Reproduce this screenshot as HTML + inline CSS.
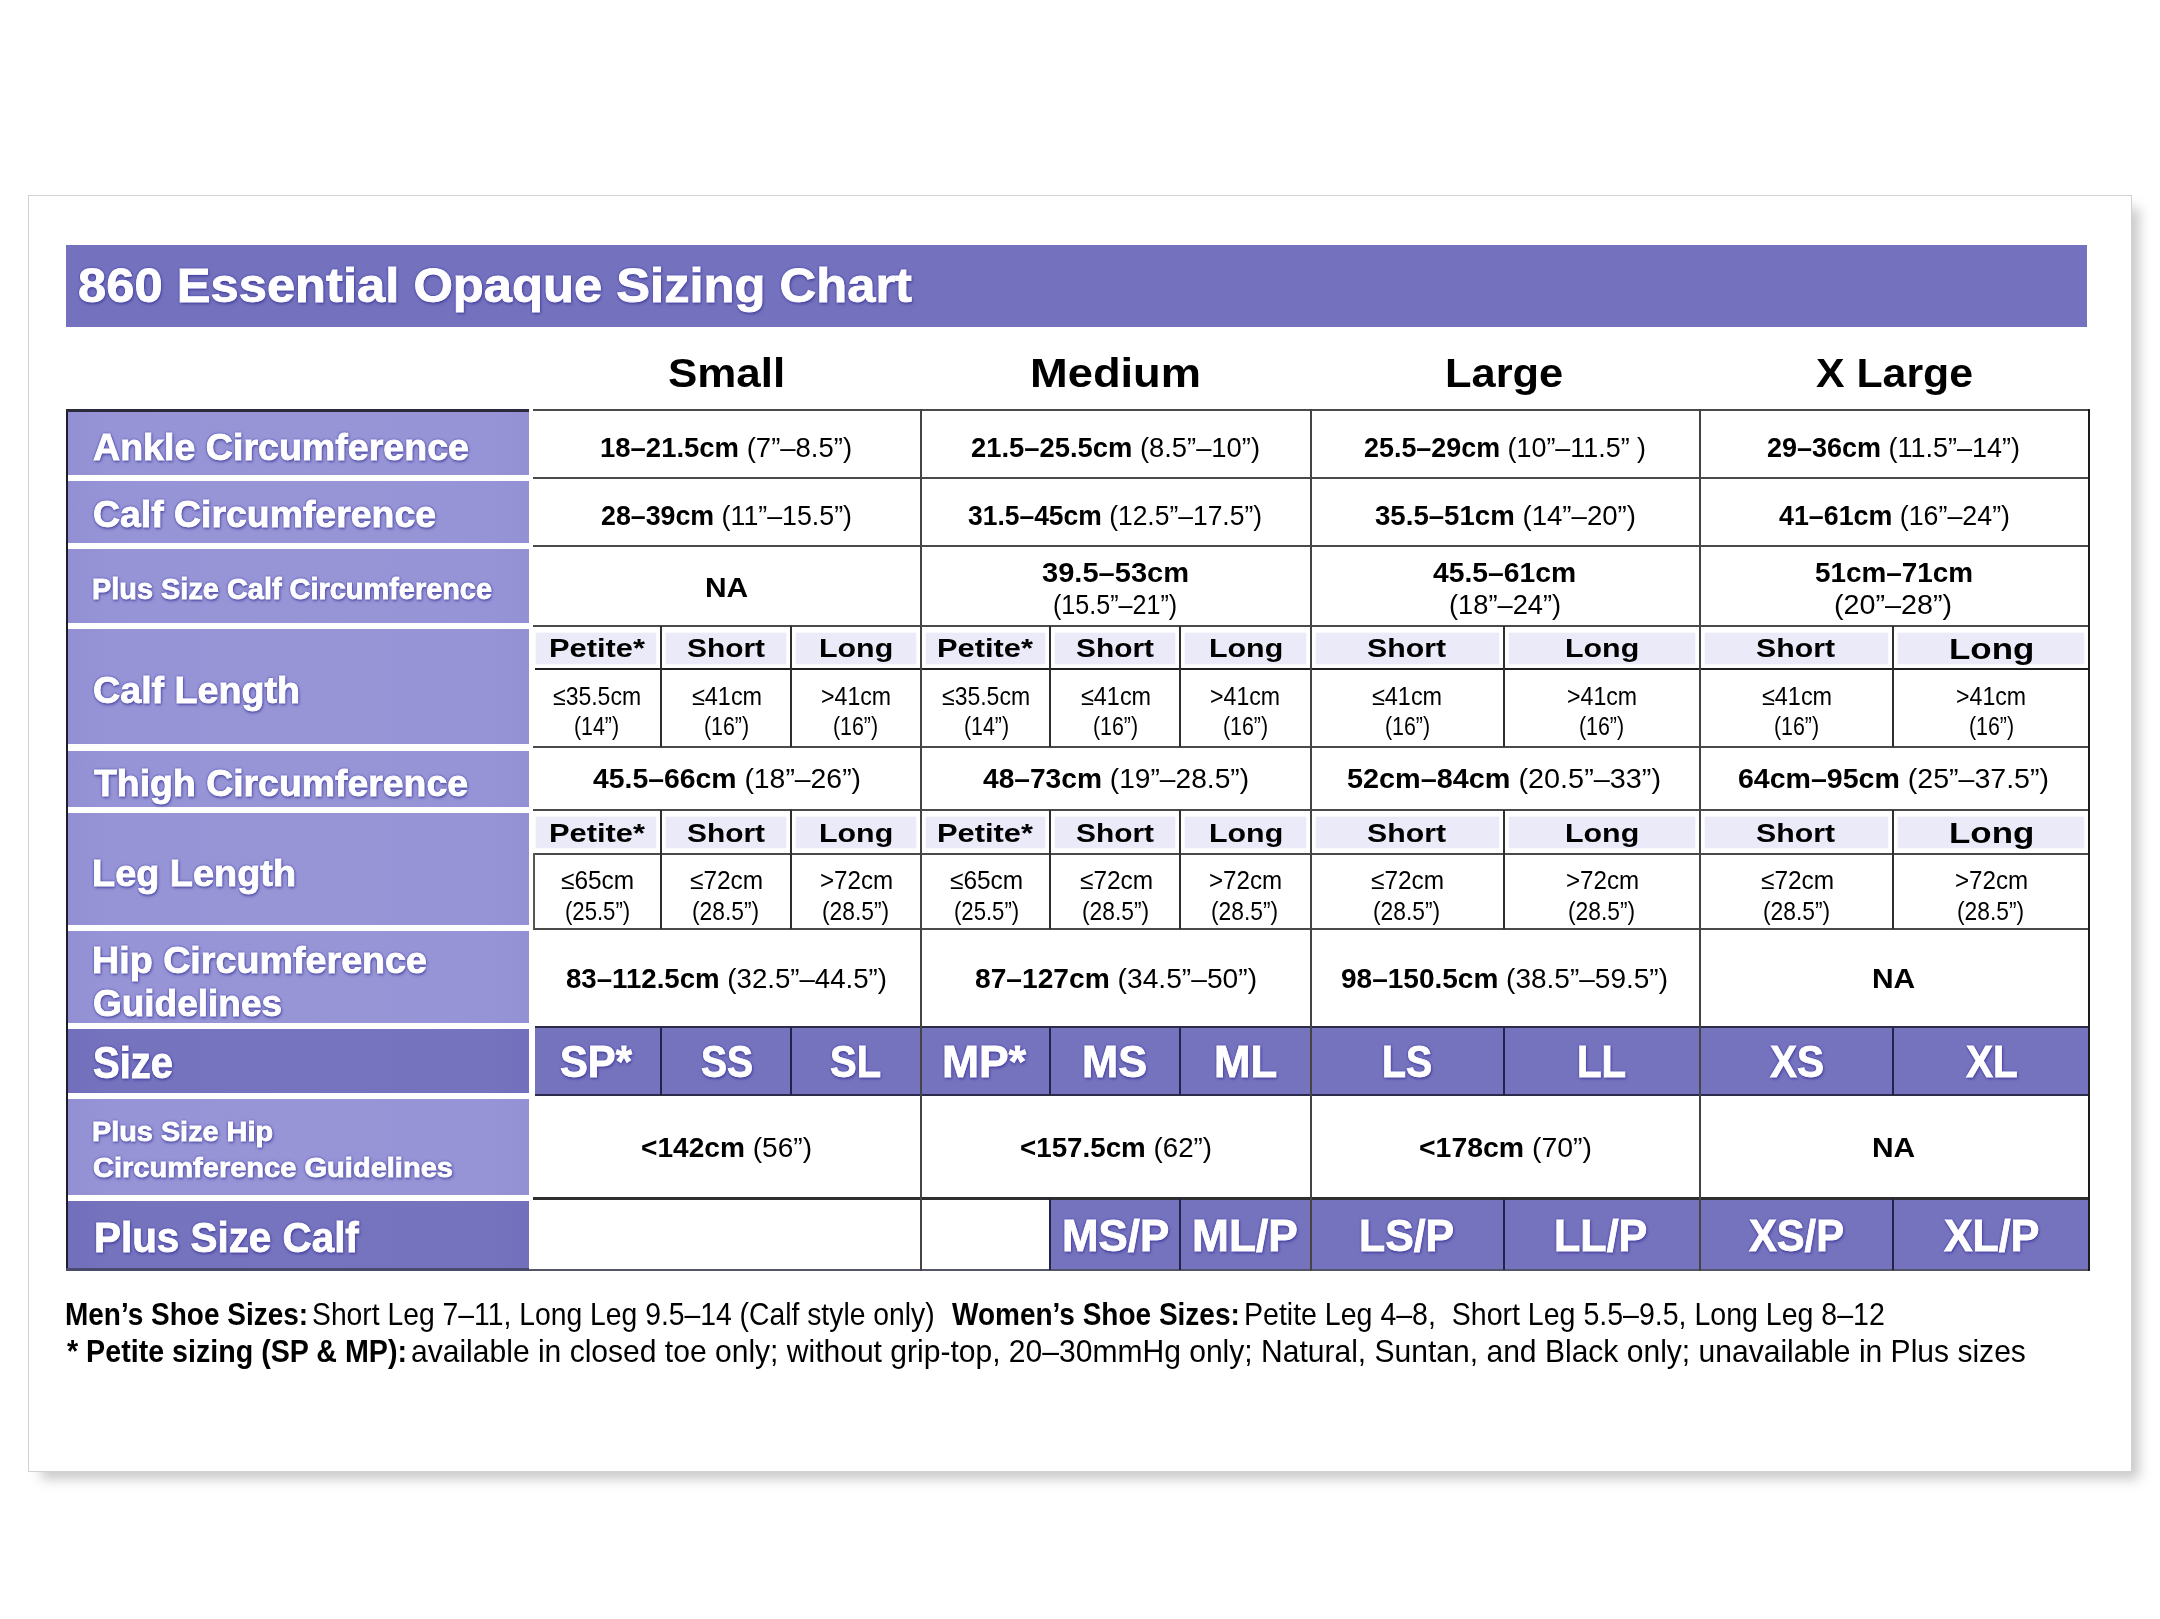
<!DOCTYPE html>
<html><head><meta charset="utf-8"><title>860 Essential Opaque Sizing Chart</title>
<style>html,body{margin:0;padding:0;background:#fff;}body{width:2160px;height:1619px;position:relative;overflow:hidden;font-family:"Liberation Sans", sans-serif;}.t{position:absolute;white-space:nowrap;line-height:1;transform-origin:0 0;}.b{font-weight:bold}.r{font-weight:normal}.w{color:#fff;text-shadow:0 0 3px rgba(62,58,165,0.95),0 0 2px rgba(62,58,165,0.8),1px 2px 3px rgba(50,45,140,0.6);-webkit-text-stroke:0.9px #fff;}#pg{position:absolute;left:0;top:0;width:2160px;height:1619px;filter:blur(0.75px);}</style></head><body><div id="pg">
<div style="position:absolute;left:28px;top:195px;width:2102px;height:1275px;background:#fff;border:1.5px solid #d2d2d2;box-shadow:10px 10px 12px -3px rgba(0,0,0,0.22);"></div>
<div style="position:absolute;left:66px;top:245px;width:2021px;height:82px;background:#7472be;"></div>
<div style="position:absolute;left:68px;top:412px;width:461px;height:63px;background:#9593d5;background:linear-gradient(90deg,#9290d2 0%,#9694d6 8%,#9795d6 50%,#9694d6 92%,#9391d3 100%);"></div>
<div style="position:absolute;left:68px;top:481px;width:461px;height:62px;background:#9593d5;background:linear-gradient(90deg,#9290d2 0%,#9694d6 8%,#9795d6 50%,#9694d6 92%,#9391d3 100%);"></div>
<div style="position:absolute;left:68px;top:549px;width:461px;height:74px;background:#9593d5;background:linear-gradient(90deg,#9290d2 0%,#9694d6 8%,#9795d6 50%,#9694d6 92%,#9391d3 100%);"></div>
<div style="position:absolute;left:68px;top:629px;width:461px;height:115px;background:#9593d5;background:linear-gradient(90deg,#9290d2 0%,#9694d6 8%,#9795d6 50%,#9694d6 92%,#9391d3 100%);"></div>
<div style="position:absolute;left:68px;top:751px;width:461px;height:56px;background:#9593d5;background:linear-gradient(90deg,#9290d2 0%,#9694d6 8%,#9795d6 50%,#9694d6 92%,#9391d3 100%);"></div>
<div style="position:absolute;left:68px;top:813px;width:461px;height:112px;background:#9593d5;background:linear-gradient(90deg,#9290d2 0%,#9694d6 8%,#9795d6 50%,#9694d6 92%,#9391d3 100%);"></div>
<div style="position:absolute;left:68px;top:931px;width:461px;height:91.5px;background:#9593d5;background:linear-gradient(90deg,#9290d2 0%,#9694d6 8%,#9795d6 50%,#9694d6 92%,#9391d3 100%);"></div>
<div style="position:absolute;left:68px;top:1029px;width:461px;height:63.5px;background:#7572be;background:linear-gradient(90deg,#716ebb 0%,#7572be 8%,#7673bf 50%,#7572be 92%,#726fbc 100%);"></div>
<div style="position:absolute;left:68px;top:1099px;width:461px;height:96px;background:#9593d5;background:linear-gradient(90deg,#9290d2 0%,#9694d6 8%,#9795d6 50%,#9694d6 92%,#9391d3 100%);"></div>
<div style="position:absolute;left:68px;top:1201px;width:461px;height:68px;background:#7572be;background:linear-gradient(90deg,#716ebb 0%,#7572be 8%,#7673bf 50%,#7572be 92%,#726fbc 100%);"></div>
<div style="position:absolute;left:66px;top:409px;width:2px;height:861px;background:#1d1d2b;"></div>
<div style="position:absolute;left:66px;top:409px;width:463px;height:3px;background:#2b2a3a;"></div>
<div style="position:absolute;left:66px;top:1268px;width:463px;height:3px;background:#4a4a6a;"></div>
<div style="position:absolute;left:535.5px;top:632.5px;width:120.5px;height:31.0px;background:#ebeaf8;box-shadow:0 0 2px #ebeaf8;"></div>
<div style="position:absolute;left:666px;top:632.5px;width:120px;height:31.0px;background:#ebeaf8;box-shadow:0 0 2px #ebeaf8;"></div>
<div style="position:absolute;left:796px;top:632.5px;width:120px;height:31.0px;background:#ebeaf8;box-shadow:0 0 2px #ebeaf8;"></div>
<div style="position:absolute;left:926px;top:632.5px;width:119px;height:31.0px;background:#ebeaf8;box-shadow:0 0 2px #ebeaf8;"></div>
<div style="position:absolute;left:1055px;top:632.5px;width:120px;height:31.0px;background:#ebeaf8;box-shadow:0 0 2px #ebeaf8;"></div>
<div style="position:absolute;left:1185px;top:632.5px;width:121px;height:31.0px;background:#ebeaf8;box-shadow:0 0 2px #ebeaf8;"></div>
<div style="position:absolute;left:1316px;top:632.5px;width:183px;height:31.0px;background:#ebeaf8;box-shadow:0 0 2px #ebeaf8;"></div>
<div style="position:absolute;left:1509px;top:632.5px;width:186px;height:31.0px;background:#ebeaf8;box-shadow:0 0 2px #ebeaf8;"></div>
<div style="position:absolute;left:1705px;top:632.5px;width:183px;height:31.0px;background:#ebeaf8;box-shadow:0 0 2px #ebeaf8;"></div>
<div style="position:absolute;left:1898px;top:632.5px;width:186px;height:31.0px;background:#ebeaf8;box-shadow:0 0 2px #ebeaf8;"></div>
<div style="position:absolute;left:535.5px;top:816.5px;width:120.5px;height:31.5px;background:#ebeaf8;box-shadow:0 0 2px #ebeaf8;"></div>
<div style="position:absolute;left:666px;top:816.5px;width:120px;height:31.5px;background:#ebeaf8;box-shadow:0 0 2px #ebeaf8;"></div>
<div style="position:absolute;left:796px;top:816.5px;width:120px;height:31.5px;background:#ebeaf8;box-shadow:0 0 2px #ebeaf8;"></div>
<div style="position:absolute;left:926px;top:816.5px;width:119px;height:31.5px;background:#ebeaf8;box-shadow:0 0 2px #ebeaf8;"></div>
<div style="position:absolute;left:1055px;top:816.5px;width:120px;height:31.5px;background:#ebeaf8;box-shadow:0 0 2px #ebeaf8;"></div>
<div style="position:absolute;left:1185px;top:816.5px;width:121px;height:31.5px;background:#ebeaf8;box-shadow:0 0 2px #ebeaf8;"></div>
<div style="position:absolute;left:1316px;top:816.5px;width:183px;height:31.5px;background:#ebeaf8;box-shadow:0 0 2px #ebeaf8;"></div>
<div style="position:absolute;left:1509px;top:816.5px;width:186px;height:31.5px;background:#ebeaf8;box-shadow:0 0 2px #ebeaf8;"></div>
<div style="position:absolute;left:1705px;top:816.5px;width:183px;height:31.5px;background:#ebeaf8;box-shadow:0 0 2px #ebeaf8;"></div>
<div style="position:absolute;left:1898px;top:816.5px;width:186px;height:31.5px;background:#ebeaf8;box-shadow:0 0 2px #ebeaf8;"></div>
<div style="position:absolute;left:535px;top:1027px;width:1554px;height:68px;background:#7572be;"></div>
<div style="position:absolute;left:1051px;top:1199px;width:1038px;height:70px;background:#7572be;"></div>
<div style="position:absolute;left:533px;top:408.8px;width:1557px;height:2.4px;background:#4a4a4a;"></div>
<div style="position:absolute;left:533px;top:476.8px;width:1557px;height:2.4px;background:#4a4a4a;"></div>
<div style="position:absolute;left:533px;top:544.8px;width:1557px;height:2.4px;background:#4a4a4a;"></div>
<div style="position:absolute;left:533px;top:624.8px;width:1557px;height:2.4px;background:#4a4a4a;"></div>
<div style="position:absolute;left:533px;top:745.8px;width:1557px;height:2.4px;background:#4a4a4a;"></div>
<div style="position:absolute;left:533px;top:808.8px;width:1557px;height:2.4px;background:#4a4a4a;"></div>
<div style="position:absolute;left:533px;top:927.8px;width:1557px;height:2.4px;background:#4a4a4a;"></div>
<div style="position:absolute;left:535px;top:667.8px;width:1555px;height:2.4px;background:#1e1e1e;"></div>
<div style="position:absolute;left:533px;top:852.8px;width:1557px;height:2.4px;background:#4a4a4a;"></div>
<div style="position:absolute;left:535px;top:1025.8px;width:1555px;height:2.4px;background:#2c2b4a;"></div>
<div style="position:absolute;left:535px;top:1093.8px;width:1555px;height:2.4px;background:#2c2b4a;"></div>
<div style="position:absolute;left:533px;top:1197.4px;width:1557px;height:2.2px;background:#2e2e2e;"></div>
<div style="position:absolute;left:529px;top:1268.8px;width:1561px;height:2.4px;background:#55556a;"></div>
<div style="position:absolute;left:919.8px;top:409px;width:2.4px;height:862px;background:#444;"></div>
<div style="position:absolute;left:1309.8px;top:409px;width:2.4px;height:862px;background:#444;"></div>
<div style="position:absolute;left:1698.8px;top:409px;width:2.4px;height:862px;background:#444;"></div>
<div style="position:absolute;left:2087.7px;top:409px;width:2.6px;height:862px;background:#1c1c1c;"></div>
<div style="position:absolute;left:659.95px;top:626px;width:2.1px;height:121px;background:#2e2e2e;"></div>
<div style="position:absolute;left:789.95px;top:626px;width:2.1px;height:121px;background:#2e2e2e;"></div>
<div style="position:absolute;left:1048.95px;top:626px;width:2.1px;height:121px;background:#2e2e2e;"></div>
<div style="position:absolute;left:1178.95px;top:626px;width:2.1px;height:121px;background:#2e2e2e;"></div>
<div style="position:absolute;left:1502.95px;top:626px;width:2.1px;height:121px;background:#2e2e2e;"></div>
<div style="position:absolute;left:1891.95px;top:626px;width:2.1px;height:121px;background:#2e2e2e;"></div>
<div style="position:absolute;left:659.95px;top:810px;width:2.1px;height:119px;background:#2e2e2e;"></div>
<div style="position:absolute;left:789.95px;top:810px;width:2.1px;height:119px;background:#2e2e2e;"></div>
<div style="position:absolute;left:1048.95px;top:810px;width:2.1px;height:119px;background:#2e2e2e;"></div>
<div style="position:absolute;left:1178.95px;top:810px;width:2.1px;height:119px;background:#2e2e2e;"></div>
<div style="position:absolute;left:1502.95px;top:810px;width:2.1px;height:119px;background:#2e2e2e;"></div>
<div style="position:absolute;left:1891.95px;top:810px;width:2.1px;height:119px;background:#2e2e2e;"></div>
<div style="position:absolute;left:659.7px;top:1027px;width:2.6px;height:68px;background:#23224a;"></div>
<div style="position:absolute;left:789.7px;top:1027px;width:2.6px;height:68px;background:#23224a;"></div>
<div style="position:absolute;left:1048.7px;top:1027px;width:2.6px;height:68px;background:#23224a;"></div>
<div style="position:absolute;left:1178.7px;top:1027px;width:2.6px;height:68px;background:#23224a;"></div>
<div style="position:absolute;left:1502.7px;top:1027px;width:2.6px;height:68px;background:#23224a;"></div>
<div style="position:absolute;left:1891.7px;top:1027px;width:2.6px;height:68px;background:#23224a;"></div>
<div style="position:absolute;left:1048.7px;top:1198px;width:2.6px;height:72px;background:#23224a;"></div>
<div style="position:absolute;left:1178.7px;top:1198px;width:2.6px;height:72px;background:#23224a;"></div>
<div style="position:absolute;left:1502.7px;top:1198px;width:2.6px;height:72px;background:#23224a;"></div>
<div style="position:absolute;left:1891.7px;top:1198px;width:2.6px;height:72px;background:#23224a;"></div>
<div style="position:absolute;left:532.5px;top:853px;width:2px;height:76px;background:#555;"></div>
<div class="t b w" style="left:78.00px;top:261.44px;font-size:48.5px;transform:scaleX(1.0454);">860 Essential Opaque Sizing Chart</div>
<div class="t b" style="left:668.48px;top:351.87px;font-size:41.5px;transform:scaleX(1.0587);">Small</div>
<div class="t b" style="left:1030.09px;top:351.87px;font-size:41.5px;transform:scaleX(1.0908);">Medium</div>
<div class="t b" style="left:1445.27px;top:351.87px;font-size:41.5px;transform:scaleX(1.0458);">Large</div>
<div class="t b" style="left:1815.78px;top:351.87px;font-size:41.5px;transform:scaleX(1.0316);">X Large</div>
<div class="t b w" style="left:92.99px;top:429.38px;font-size:37px;transform:scaleX(1.0158);">Ankle Circumference</div>
<div class="t b w" style="left:92.99px;top:496.38px;font-size:37px;transform:scaleX(1.0109);">Calf Circumference</div>
<div class="t b w" style="left:91.98px;top:574.03px;font-size:29.5px;transform:scaleX(0.9799);">Plus Size Calf Circumference</div>
<div class="t b w" style="left:92.99px;top:671.98px;font-size:37px;transform:scaleX(1.0175);">Calf Length</div>
<div class="t b w" style="left:94.00px;top:765.38px;font-size:37px;transform:scaleX(1.0106);">Thigh Circumference</div>
<div class="t b w" style="left:91.96px;top:855.38px;font-size:37px;transform:scaleX(1.0236);">Leg Length</div>
<div class="t b w" style="left:91.98px;top:942.38px;font-size:37px;transform:scaleX(1.0183);">Hip Circumference</div>
<div class="t b w" style="left:92.99px;top:984.68px;font-size:37px;transform:scaleX(0.9993);">Guidelines</div>
<div class="t b w" style="left:92.98px;top:1042.18px;font-size:43.5px;transform:scaleX(0.9197);">Size</div>
<div class="t b w" style="left:91.97px;top:1117.72px;font-size:27.5px;transform:scaleX(1.0483);">Plus Size Hip</div>
<div class="t b w" style="left:93.00px;top:1154.22px;font-size:27.5px;transform:scaleX(1.0563);">Circumference Guidelines</div>
<div class="t b w" style="left:93.99px;top:1216.52px;font-size:42.5px;transform:scaleX(0.9502);">Plus Size Calf</div>
<div class="t b" style="left:599.96px;top:433.92px;font-size:27.5px;transform:scaleX(0.9993);">18&ndash;21.5cm <span class="r">(7&#8221;&ndash;8.5&#8221;)</span></div>
<div class="t b" style="left:970.99px;top:433.92px;font-size:27.5px;transform:scaleX(0.9950);">21.5&ndash;25.5cm <span class="r">(8.5&#8221;&ndash;10&#8221;)</span></div>
<div class="t b" style="left:1363.59px;top:433.92px;font-size:27.5px;transform:scaleX(0.9778);">25.5&ndash;29cm <span class="r">(10&#8221;&ndash;11.5&#8221; )</span></div>
<div class="t b" style="left:1766.99px;top:433.92px;font-size:27.5px;transform:scaleX(0.9813);">29&ndash;36cm <span class="r">(11.5&#8221;&ndash;14&#8221;)</span></div>
<div class="t b" style="left:600.98px;top:502.22px;font-size:27.5px;transform:scaleX(0.9735);">28&ndash;39cm <span class="r">(11&#8221;&ndash;15.5&#8221;)</span></div>
<div class="t b" style="left:967.59px;top:502.22px;font-size:27.5px;transform:scaleX(0.9615);">31.5&ndash;45cm <span class="r">(12.5&#8221;&ndash;17.5&#8221;)</span></div>
<div class="t b" style="left:1374.98px;top:502.22px;font-size:27.5px;transform:scaleX(1.0043);">35.5&ndash;51cm <span class="r">(14&#8221;&ndash;20&#8221;)</span></div>
<div class="t b" style="left:1779.00px;top:502.22px;font-size:27.5px;transform:scaleX(0.9749);">41&ndash;61cm <span class="r">(16&#8221;&ndash;24&#8221;)</span></div>
<div class="t b" style="left:704.83px;top:574.32px;font-size:27.5px;transform:scaleX(1.0886);">NA</div>
<div class="t b" style="left:1041.98px;top:559.22px;font-size:27.5px;transform:scaleX(1.0568);">39.5&ndash;53cm</div>
<div class="t r" style="left:1053.14px;top:591.42px;font-size:27.5px;transform:scaleX(0.9122);">(15.5&#8221;&ndash;21&#8221;)</div>
<div class="t b" style="left:1433.18px;top:559.22px;font-size:27.5px;transform:scaleX(1.0280);">45.5&ndash;61cm</div>
<div class="t r" style="left:1448.92px;top:591.42px;font-size:27.5px;transform:scaleX(0.9916);">(18&#8221;&ndash;24&#8221;)</div>
<div class="t b" style="left:1814.77px;top:559.22px;font-size:27.5px;transform:scaleX(1.0134);">51cm&ndash;71cm</div>
<div class="t r" style="left:1834.31px;top:591.42px;font-size:27.5px;transform:scaleX(1.0445);">(20&#8221;&ndash;28&#8221;)</div>
<div class="t b" style="left:548.95px;top:635.07px;font-size:26.5px;transform:scaleX(1.1644);">Petite*</div>
<div class="t b" style="left:686.99px;top:635.07px;font-size:26.5px;transform:scaleX(1.1276);">Short</div>
<div class="t b" style="left:818.88px;top:635.07px;font-size:26.5px;transform:scaleX(1.1466);">Long</div>
<div class="t b" style="left:936.76px;top:635.07px;font-size:26.5px;transform:scaleX(1.1644);">Petite*</div>
<div class="t b" style="left:1075.99px;top:635.07px;font-size:26.5px;transform:scaleX(1.1276);">Short</div>
<div class="t b" style="left:1208.85px;top:635.07px;font-size:26.5px;transform:scaleX(1.1466);">Long</div>
<div class="t b" style="left:1366.78px;top:635.07px;font-size:26.5px;transform:scaleX(1.1420);">Short</div>
<div class="t b" style="left:1565.07px;top:635.07px;font-size:26.5px;transform:scaleX(1.1466);">Long</div>
<div class="t b" style="left:1756.38px;top:635.07px;font-size:26.5px;transform:scaleX(1.1420);">Short</div>
<div class="t b" style="left:1948.68px;top:633.61px;font-size:30px;transform:scaleX(1.1631);">Long</div>
<div class="t b" style="left:548.95px;top:819.87px;font-size:26.5px;transform:scaleX(1.1644);">Petite*</div>
<div class="t b" style="left:686.99px;top:819.87px;font-size:26.5px;transform:scaleX(1.1276);">Short</div>
<div class="t b" style="left:818.88px;top:819.87px;font-size:26.5px;transform:scaleX(1.1466);">Long</div>
<div class="t b" style="left:936.76px;top:819.87px;font-size:26.5px;transform:scaleX(1.1644);">Petite*</div>
<div class="t b" style="left:1075.99px;top:819.87px;font-size:26.5px;transform:scaleX(1.1276);">Short</div>
<div class="t b" style="left:1208.85px;top:819.87px;font-size:26.5px;transform:scaleX(1.1466);">Long</div>
<div class="t b" style="left:1366.78px;top:819.87px;font-size:26.5px;transform:scaleX(1.1420);">Short</div>
<div class="t b" style="left:1565.07px;top:819.87px;font-size:26.5px;transform:scaleX(1.1466);">Long</div>
<div class="t b" style="left:1756.38px;top:819.87px;font-size:26.5px;transform:scaleX(1.1420);">Short</div>
<div class="t b" style="left:1948.68px;top:818.40px;font-size:30px;transform:scaleX(1.1631);">Long</div>
<div class="t r" style="left:552.96px;top:682.99px;font-size:26px;transform:scaleX(0.8850);">&le;35.5cm</div>
<div class="t r" style="left:573.95px;top:713.49px;font-size:26px;transform:scaleX(0.8214);">(14&#8221;)</div>
<div class="t r" style="left:691.55px;top:682.99px;font-size:26px;transform:scaleX(0.9003);">&le;41cm</div>
<div class="t r" style="left:703.55px;top:713.49px;font-size:26px;transform:scaleX(0.8214);">(16&#8221;)</div>
<div class="t r" style="left:820.95px;top:682.99px;font-size:26px;transform:scaleX(0.8900);">&gt;41cm</div>
<div class="t r" style="left:832.95px;top:713.49px;font-size:26px;transform:scaleX(0.8214);">(16&#8221;)</div>
<div class="t r" style="left:941.98px;top:682.99px;font-size:26px;transform:scaleX(0.8850);">&le;35.5cm</div>
<div class="t r" style="left:963.93px;top:713.49px;font-size:26px;transform:scaleX(0.8214);">(14&#8221;)</div>
<div class="t r" style="left:1080.95px;top:682.99px;font-size:26px;transform:scaleX(0.9003);">&le;41cm</div>
<div class="t r" style="left:1092.95px;top:713.49px;font-size:26px;transform:scaleX(0.8214);">(16&#8221;)</div>
<div class="t r" style="left:1209.98px;top:682.99px;font-size:26px;transform:scaleX(0.8900);">&gt;41cm</div>
<div class="t r" style="left:1222.93px;top:713.49px;font-size:26px;transform:scaleX(0.8214);">(16&#8221;)</div>
<div class="t r" style="left:1371.98px;top:682.99px;font-size:26px;transform:scaleX(0.9003);">&le;41cm</div>
<div class="t r" style="left:1384.93px;top:713.49px;font-size:26px;transform:scaleX(0.8214);">(16&#8221;)</div>
<div class="t r" style="left:1566.95px;top:682.99px;font-size:26px;transform:scaleX(0.8900);">&gt;41cm</div>
<div class="t r" style="left:1578.95px;top:713.49px;font-size:26px;transform:scaleX(0.8214);">(16&#8221;)</div>
<div class="t r" style="left:1761.95px;top:682.99px;font-size:26px;transform:scaleX(0.9003);">&le;41cm</div>
<div class="t r" style="left:1773.95px;top:713.49px;font-size:26px;transform:scaleX(0.8214);">(16&#8221;)</div>
<div class="t r" style="left:1955.98px;top:682.99px;font-size:26px;transform:scaleX(0.8900);">&gt;41cm</div>
<div class="t r" style="left:1968.93px;top:713.49px;font-size:26px;transform:scaleX(0.8214);">(16&#8221;)</div>
<div class="t b" style="left:592.99px;top:765.42px;font-size:27.5px;transform:scaleX(1.0313);">45.5&ndash;66cm <span class="r">(18&#8221;&ndash;26&#8221;)</span></div>
<div class="t b" style="left:982.99px;top:765.42px;font-size:27.5px;transform:scaleX(1.0236);">48&ndash;73cm <span class="r">(19&#8221;&ndash;28.5&#8221;)</span></div>
<div class="t b" style="left:1346.59px;top:765.42px;font-size:27.5px;transform:scaleX(1.0480);">52cm&ndash;84cm <span class="r">(20.5&#8221;&ndash;33&#8221;)</span></div>
<div class="t b" style="left:1737.79px;top:765.42px;font-size:27.5px;transform:scaleX(1.0379);">64cm&ndash;95cm <span class="r">(25&#8221;&ndash;37.5&#8221;)</span></div>
<div class="t r" style="left:560.96px;top:867.19px;font-size:26px;transform:scaleX(0.9393);">&le;65cm</div>
<div class="t r" style="left:564.95px;top:897.79px;font-size:26px;transform:scaleX(0.8502);">(25.5&#8221;)</div>
<div class="t r" style="left:689.96px;top:867.19px;font-size:26px;transform:scaleX(0.9393);">&le;72cm</div>
<div class="t r" style="left:691.95px;top:897.79px;font-size:26px;transform:scaleX(0.8764);">(28.5&#8221;)</div>
<div class="t r" style="left:819.96px;top:867.19px;font-size:26px;transform:scaleX(0.9285);">&gt;72cm</div>
<div class="t r" style="left:821.95px;top:897.79px;font-size:26px;transform:scaleX(0.8764);">(28.5&#8221;)</div>
<div class="t r" style="left:949.96px;top:867.19px;font-size:26px;transform:scaleX(0.9393);">&le;65cm</div>
<div class="t r" style="left:953.95px;top:897.79px;font-size:26px;transform:scaleX(0.8502);">(25.5&#8221;)</div>
<div class="t r" style="left:1079.93px;top:867.19px;font-size:26px;transform:scaleX(0.9393);">&le;72cm</div>
<div class="t r" style="left:1081.93px;top:897.79px;font-size:26px;transform:scaleX(0.8764);">(28.5&#8221;)</div>
<div class="t r" style="left:1208.96px;top:867.19px;font-size:26px;transform:scaleX(0.9285);">&gt;72cm</div>
<div class="t r" style="left:1210.95px;top:897.79px;font-size:26px;transform:scaleX(0.8764);">(28.5&#8221;)</div>
<div class="t r" style="left:1370.96px;top:867.19px;font-size:26px;transform:scaleX(0.9393);">&le;72cm</div>
<div class="t r" style="left:1372.95px;top:897.79px;font-size:26px;transform:scaleX(0.8764);">(28.5&#8221;)</div>
<div class="t r" style="left:1565.93px;top:867.19px;font-size:26px;transform:scaleX(0.9285);">&gt;72cm</div>
<div class="t r" style="left:1567.93px;top:897.79px;font-size:26px;transform:scaleX(0.8764);">(28.5&#8221;)</div>
<div class="t r" style="left:1760.93px;top:867.19px;font-size:26px;transform:scaleX(0.9393);">&le;72cm</div>
<div class="t r" style="left:1762.93px;top:897.79px;font-size:26px;transform:scaleX(0.8764);">(28.5&#8221;)</div>
<div class="t r" style="left:1954.96px;top:867.19px;font-size:26px;transform:scaleX(0.9285);">&gt;72cm</div>
<div class="t r" style="left:1956.95px;top:897.79px;font-size:26px;transform:scaleX(0.8764);">(28.5&#8221;)</div>
<div class="t b" style="left:565.59px;top:965.32px;font-size:27.5px;transform:scaleX(1.0046);">83&ndash;112.5cm <span class="r">(32.5&#8221;&ndash;44.5&#8221;)</span></div>
<div class="t b" style="left:974.98px;top:965.32px;font-size:27.5px;transform:scaleX(1.0248);">87&ndash;127cm <span class="r">(34.5&#8221;&ndash;50&#8221;)</span></div>
<div class="t b" style="left:1341.19px;top:965.32px;font-size:27.5px;transform:scaleX(1.0185);">98&ndash;150.5cm <span class="r">(38.5&#8221;&ndash;59.5&#8221;)</span></div>
<div class="t b" style="left:1871.66px;top:965.32px;font-size:27.5px;transform:scaleX(1.0886);">NA</div>
<div class="t b w" style="left:559.99px;top:1039.63px;font-size:44.5px;transform:scaleX(0.9391);">SP*</div>
<div class="t b w" style="left:700.78px;top:1039.63px;font-size:44.5px;transform:scaleX(0.8781);">SS</div>
<div class="t b w" style="left:829.98px;top:1039.63px;font-size:44.5px;transform:scaleX(0.8984);">SL</div>
<div class="t b w" style="left:942.48px;top:1039.63px;font-size:44.5px;transform:scaleX(1.0004);">MP*</div>
<div class="t b w" style="left:1082.43px;top:1039.63px;font-size:44.5px;transform:scaleX(0.9749);">MS</div>
<div class="t b w" style="left:1213.81px;top:1039.63px;font-size:44.5px;transform:scaleX(0.9839);">ML</div>
<div class="t b w" style="left:1381.86px;top:1039.63px;font-size:44.5px;transform:scaleX(0.8827);">LS</div>
<div class="t b w" style="left:1576.86px;top:1039.63px;font-size:44.5px;transform:scaleX(0.9050);">LL</div>
<div class="t b w" style="left:1770.20px;top:1039.63px;font-size:44.5px;transform:scaleX(0.9103);">XS</div>
<div class="t b w" style="left:1966.19px;top:1039.63px;font-size:44.5px;transform:scaleX(0.9112);">XL</div>
<div class="t b" style="left:641.19px;top:1133.92px;font-size:27.5px;transform:scaleX(1.0218);">&lt;142cm <span class="r">(56&#8221;)</span></div>
<div class="t b" style="left:1020.39px;top:1133.92px;font-size:27.5px;transform:scaleX(1.0090);">&lt;157.5cm <span class="r">(62&#8221;)</span></div>
<div class="t b" style="left:1418.98px;top:1133.92px;font-size:27.5px;transform:scaleX(1.0337);">&lt;178cm <span class="r">(70&#8221;)</span></div>
<div class="t b" style="left:1871.66px;top:1133.92px;font-size:27.5px;transform:scaleX(1.0886);">NA</div>
<div class="t b w" style="left:1061.89px;top:1214.33px;font-size:44.5px;transform:scaleX(0.9850);">MS/P</div>
<div class="t b w" style="left:1191.87px;top:1214.33px;font-size:44.5px;transform:scaleX(0.9953);">ML/P</div>
<div class="t b w" style="left:1358.90px;top:1214.33px;font-size:44.5px;transform:scaleX(0.9618);">LS/P</div>
<div class="t b w" style="left:1554.08px;top:1214.33px;font-size:44.5px;transform:scaleX(0.9682);">LL/P</div>
<div class="t b w" style="left:1749.00px;top:1214.33px;font-size:44.5px;transform:scaleX(0.9368);">XS/P</div>
<div class="t b w" style="left:1943.60px;top:1214.33px;font-size:44.5px;transform:scaleX(0.9625);">XL/P</div>
<div class="t b" style="left:64.96px;top:1298.58px;font-size:30.5px;transform:scaleX(0.9175);">Men&rsquo;s Shoe Sizes:</div>
<div class="t r" style="left:311.99px;top:1298.58px;font-size:30.5px;transform:scaleX(0.9281);">Short Leg 7&ndash;11, Long Leg 9.5&ndash;14 (Calf style only)</div>
<div class="t b" style="left:952.20px;top:1298.58px;font-size:30.5px;transform:scaleX(0.9179);">Women&rsquo;s Shoe Sizes:</div>
<div class="t r" style="left:1243.99px;top:1298.58px;font-size:30.5px;transform:scaleX(0.9353);">Petite Leg 4&ndash;8,&nbsp; Short Leg 5.5&ndash;9.5, Long Leg 8&ndash;12</div>
<div class="t b" style="left:67.00px;top:1336.48px;font-size:30.5px;transform:scaleX(0.9390);">* Petite sizing (SP &amp; MP):</div>
<div class="t r" style="left:411.00px;top:1336.48px;font-size:30.5px;transform:scaleX(0.9850);">available in closed toe only; without grip-top, 20&ndash;30mmHg only; Natural, Suntan, and Black only; unavailable in Plus sizes</div>
</div></body></html>
